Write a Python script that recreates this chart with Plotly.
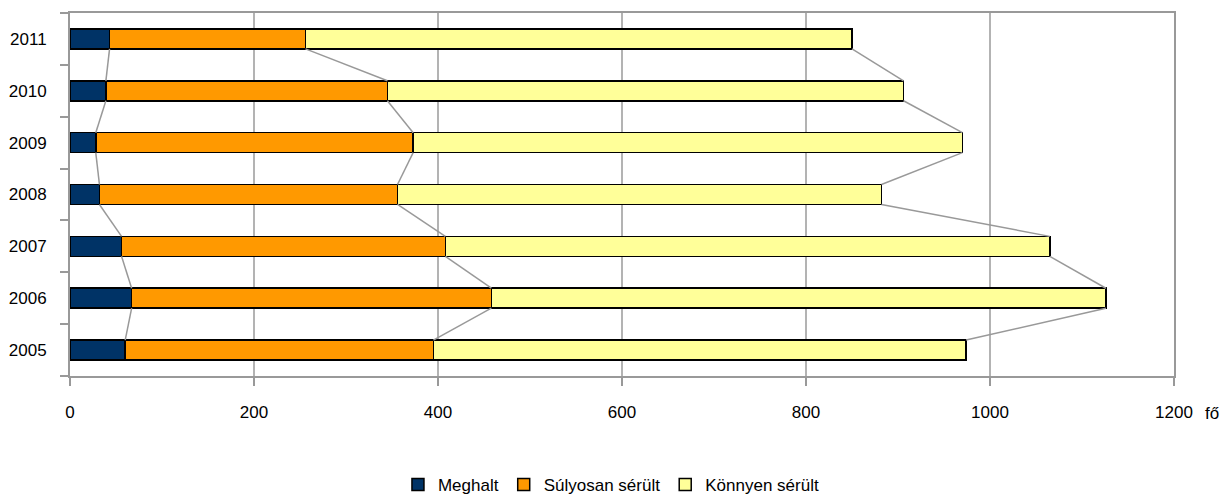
import plotly.graph_objects as go

years = ["2005", "2006", "2007", "2008", "2009", "2010", "2011"]
meghalt = [60, 67, 56, 32, 28, 39, 43]
sulyosan = [335, 391, 352, 324, 345, 306, 213]
konnyen = [579, 668, 657, 526, 597, 561, 594]
x_ticks = [0, 200, 400, 600, 800, 1000, 1200]

series_names = ["Meghalt", "Súlyosan sérült", "Könnyen sérült"]
series_colors = ["#003366", "#FF9900", "#FFFF99"]
series_values = [meghalt, sulyosan, konnyen]

FONT = "Liberation Sans, Arial, sans-serif"
bar_w = 0.385
idx = list(range(len(years)))

fig = go.Figure()
for name, color, vals in zip(series_names, series_colors, series_values):
    fig.add_trace(go.Bar(
        y=idx, x=vals, name=name, orientation="h", width=bar_w,
        marker=dict(color=color, line=dict(color="#000000", width=1.5)),
    ))

# connector lines between the series ends of adjacent bars
cum = [0] * len(years)
for vals in series_values:
    cum = [c + v for c, v in zip(cum, vals)]
    xs, ys = [], []
    for i in range(len(years) - 1, 0, -1):
        xs += [cum[i], cum[i - 1], None]
        ys += [i - bar_w / 2, i - 1 + bar_w / 2, None]
    fig.add_trace(go.Scatter(x=xs, y=ys, mode="lines", showlegend=False,
                             line=dict(color="#999999", width=1.5), hoverinfo="skip"))

fig.update_layout(
    barmode="stack",
    width=1221, height=495,
    margin=dict(l=70, r=47, t=13, b=119, autoexpand=False),
    plot_bgcolor="white", paper_bgcolor="white",
    font=dict(family=FONT, size=17, color="#000000"),
    legend=dict(orientation="h", x=0.49, xanchor="center", y=-0.30, yanchor="middle",
                traceorder="normal", font=dict(size=17), itemwidth=30),
)
fig.update_xaxes(
    range=[0, 1200], tickvals=x_ticks, showgrid=True, gridcolor="#b3b3b3", gridwidth=1.5,
    showline=True, linecolor="#999999", linewidth=2, mirror=True, automargin=False,
    ticks="outside", ticklen=8, tickcolor="#999999", tickwidth=2, zeroline=False,
    ticklabelstandoff=12,
)
fig.update_yaxes(
    range=[-0.5, len(years) - 0.5], tickvals=idx, ticktext=years, automargin=False,
    showgrid=False, showline=True, linecolor="#999999", linewidth=2, mirror=True,
    ticks="outside", ticklen=18, tickcolor="rgba(0,0,0,0)", zeroline=False,
    minor=dict(tickvals=[i - 0.5 for i in range(len(years) + 1)], ticks="outside",
               ticklen=8, tickcolor="#999999", tickwidth=2, showgrid=False),
)
fig.add_annotation(text="fő", xref="paper", yref="paper", x=1.0, xshift=29, xanchor="left",
                   y=0, yshift=-37, yanchor="middle", showarrow=False, font=dict(size=17))

fig.write_html("out.html", config={"displayModeBar": False},
               post_script="document.body.style.margin='0';")
